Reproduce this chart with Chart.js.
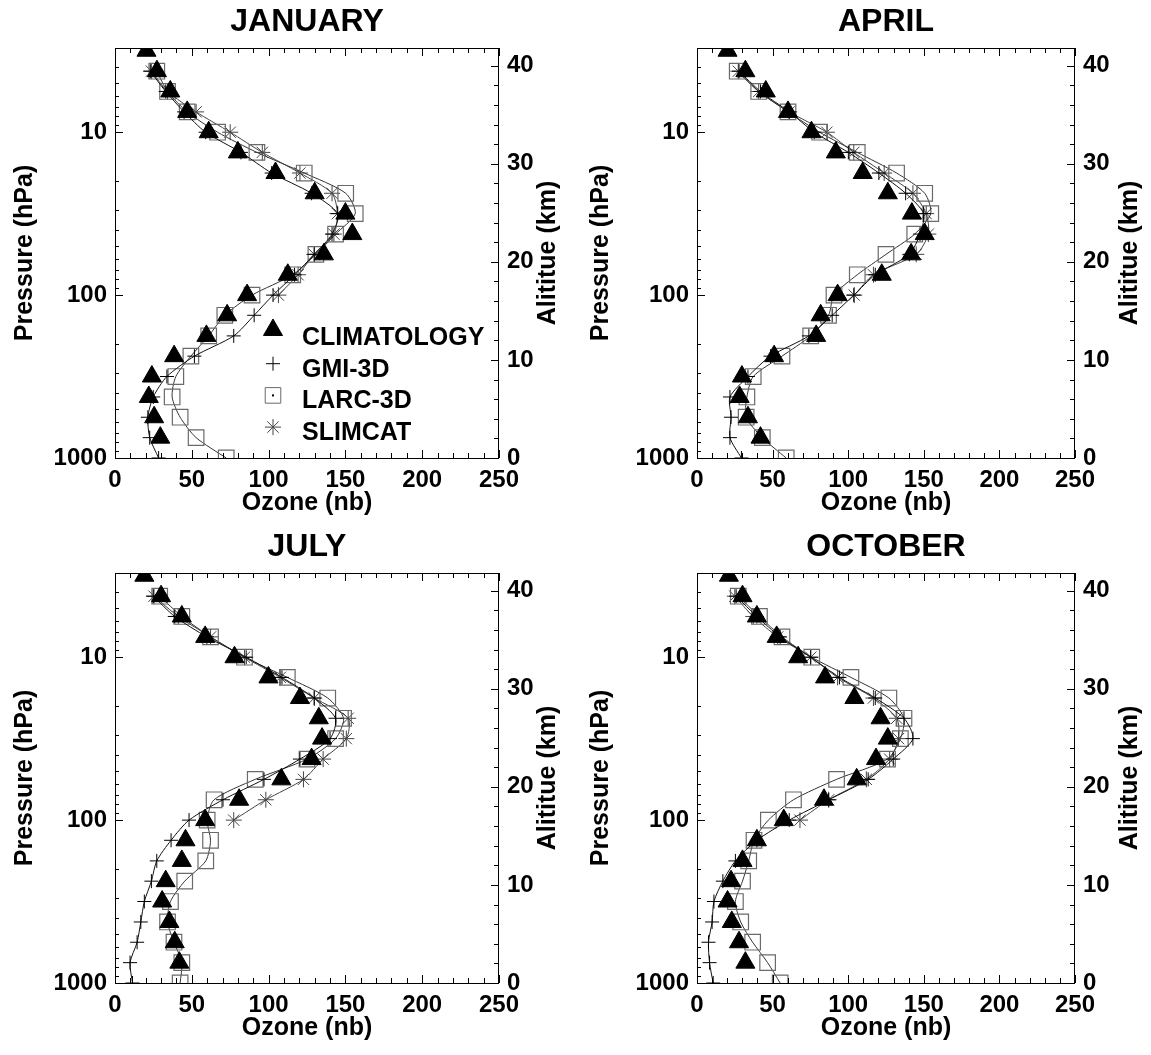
<!DOCTYPE html>
<html>
<head>
<meta charset="utf-8">
<title>Ozone profiles</title>
<script src="https://cdn.jsdelivr.net/npm/chart.js@4.4.1/dist/chart.umd.min.js"></script>
<style>
  html, body { margin: 0; padding: 0; background: #fff; }
  #wrap { position: relative; width: 1151px; height: 1055px; }
  canvas { position: absolute; }
</style>
</head>
<body>
<div id="wrap">
  <canvas id="jan" width="575" height="525" style="left:0;top:0"></canvas>
  <canvas id="apr" width="575" height="525" style="left:576px;top:0"></canvas>
  <canvas id="jul" width="575" height="525" style="left:0;top:525px"></canvas>
  <canvas id="oct" width="575" height="525" style="left:576px;top:525px"></canvas>
</div>
<script>
// pressure levels (hPa), bottom to top
const PRESSURE = [1000, 750, 562, 422, 316, 237, 178, 133, 100, 75, 56.2, 42.2, 31.6, 23.7, 17.8, 13.3, 10, 7.5, 5.62, 4.22, 3.16];
const MODEL_P = PRESSURE.slice(0, 20);   // GMI-3D, LARC-3D
const CLIM_P = PRESSURE.slice(1);        // climatology
const SLIM_P = PRESSURE.slice(8, 20);    // SLIMCAT (100 hPa and up)

// ozone (nb)
const JAN_CLIM = [29.5, 25.5, 22, 24, 38.5, 59.5, 73, 86, 112.5, 136, 154.5, 150, 130, 104.5, 80, 61, 47, 36, 27.3, 20.5];
const JAN_GMI  = [28.4, 22.6, 21.4, 24.9, 33.8, 51.7, 77.3, 90.6, 102.9, 116.9, 129.7, 141.3, 145, 128, 102, 82, 59, 45, 33, 23];
const JAN_LARC = [72.4, 52.8, 42.4, 37.2, 39.6, 49.4, 61, 71.5, 89.2, 115.7, 130.8, 143.6, 156.4, 150.2, 123.2, 92.4, 66.8, 47, 34.2, 27.2];
const JAN_SLIM = [106.4, 119.2, 129.7, 142.5, 144.8, 141.3, 120.4, 95.9, 75, 52.8, 34.2, 23.7];

const APR_CLIM = [42, 33.7, 28.2, 29.7, 51, 78.8, 81.8, 93, 122.2, 141.6, 150.6, 142.1, 126.2, 109.6, 91.8, 75.7, 60.2, 45.5, 32, 20.2];
const APR_GMI  = [29.4, 21.8, 22.5, 21.8, 33.7, 48.6, 74, 89.4, 103.7, 117.9, 140.4, 147.5, 149.9, 138, 120.3, 100.1, 77.6, 61, 42, 27.8];
const APR_LARC = [59, 43.2, 32.5, 33, 37.2, 56.2, 75.2, 87, 90.6, 106, 125, 144, 154.6, 150.6, 132, 106, 81.1, 60.2, 40.8, 26.6];
const APR_SLIM = [104, 116.7, 145, 153, 151.6, 142.8, 123.8, 103.7, 85.9, 61, 40.8, 27.3];

const JUL_CLIM = [41.9, 38.9, 35.4, 30.7, 33, 43.5, 45.9, 58.7, 80.8, 108.3, 128, 134.8, 132.7, 120.4, 99.9, 77.8, 58.7, 43.5, 30, 19.1];
const JUL_GMI  = [11.4, 9.8, 14.4, 16.8, 19.1, 23.7, 27.2, 36.5, 48.2, 70.3, 97, 120.4, 140, 143.6, 129.7, 108.7, 85.4, 59.8, 38.9, 24.9];
const JUL_LARC = [42.4, 43.5, 38.4, 34.2, 36.1, 45.4, 59.1, 62.2, 60, 64.5, 91.3, 125, 143.6, 148.8, 138.5, 112.2, 84.3, 62.2, 43.5, 29.1];
const JUL_SLIM = [77.3, 98.2, 122.7, 135.5, 150.6, 151.8, 129.7, 107.6, 84.3, 62.2, 41.2, 25.4];

const OCT_CLIM = [32, 27.8, 23, 20.2, 22.5, 30.1, 39.6, 57.4, 84, 105.6, 118.4, 126.2, 121.4, 104.1, 84.7, 66.9, 52.7, 39.6, 30.1, 21.1];
const OCT_GMI  = [10.7, 8.3, 7.6, 10, 11.2, 17.1, 25.4, 39.6, 61, 87.1, 113.2, 129.8, 142.8, 136.9, 117.9, 94.2, 75.2, 55, 39.6, 25.9];
const OCT_LARC = [55, 46.7, 36.8, 28.9, 25.4, 30.1, 34.2, 37.7, 47.2, 63.8, 92.3, 126, 134.5, 136.9, 126.9, 101.8, 75.9, 56.2, 41.3, 27.3];
const OCT_SLIM = [68.1, 87.1, 112, 127.4, 133.3, 132.1, 116.7, 93, 75.2, 53.4, 37.2, 25];

const X_TICKS = [0, 50, 100, 150, 200, 250];
const P_TICKS = [10, 100, 1000];
const ALT_TICKS = [0, 10, 20, 30, 40];
const P_MINOR = [4, 5, 6, 7, 8, 9, 10, 20, 30, 40, 50, 60, 70, 80, 90, 100, 200, 300, 400, 500, 600, 700, 800, 900, 1000];

const FONT = '"Liberation Sans", Arial, Helvetica, sans-serif';

function pts(vals, pres) {
  return vals.map((v, i) => ({ x: v, y: pres[i] }));
}

// box + inward tick marks + right axis title
const frame = {
  id: 'frame',
  afterDraw(chart, args, opts) {
    const { ctx, chartArea: a, scales } = chart;
    ctx.save();
    ctx.strokeStyle = '#000';
    ctx.lineWidth = 1;
    ctx.strokeRect(a.left + 0.5, a.top + 0.5, a.right - a.left - 1, a.bottom - a.top);
    ctx.beginPath();
    for (let v = 0; v <= 250; v += 10) {
      const px = Math.round(scales.x.getPixelForValue(v)) + 0.5;
      const len = v % 50 === 0 ? 8 : 5;
      ctx.moveTo(px, a.bottom); ctx.lineTo(px, a.bottom - len);
      ctx.moveTo(px, a.top); ctx.lineTo(px, a.top + len);
    }
    P_MINOR.forEach(v => {
      const py = Math.round(scales.y.getPixelForValue(v)) + 0.5;
      const len = P_TICKS.includes(v) ? 8 : 4;
      ctx.moveTo(a.left, py); ctx.lineTo(a.left + len, py);
    });
    for (let z = 0; z <= 40; z += 2) {
      const py = Math.round(scales.alt.getPixelForValue(z)) + 0.5;
      const len = z % 10 === 0 ? 8 : 5;
      ctx.moveTo(a.right, py); ctx.lineTo(a.right - len, py);
    }
    ctx.stroke();

    ctx.translate(opts.altX, (a.top + a.bottom) / 2);
    ctx.rotate(-Math.PI / 2);
    ctx.fillStyle = '#000';
    ctx.font = 'bold 25px ' + FONT;
    ctx.textAlign = 'center';
    ctx.textBaseline = 'middle';
    ctx.fillText('Alititue (km)', 0, 0);
    ctx.restore();
  }
};

// legend drawn inside the January plot
const legendBox = {
  id: 'legendBox',
  afterDraw(chart, args, opts) {
    if (!opts.show) return;
    const ctx = chart.ctx;
    ctx.save();
    chart.data.datasets.forEach((ds, i) => {
      const y = opts.y0 + i * opts.dy;
      const my = y - (ds.pointStyle === 'triangle' ? 8 : 6);
      ctx.fillStyle = ds.pointBackgroundColor;
      ctx.strokeStyle = ds.pointBorderColor;
      ctx.lineWidth = 1;
      Chart.helpers.drawPoint(ctx, { pointStyle: ds.pointStyle, radius: ds.pointRadius, rotation: 0, borderWidth: 1 }, opts.markX, my);
      if (ds.pointStyle === 'rect') {
        ctx.fillStyle = '#000';
        ctx.fillRect(opts.markX - 1, my - 1, 2, 2);
      }
      ctx.fillStyle = '#000';
      ctx.font = 'bold 25px ' + FONT;
      ctx.textAlign = 'left';
      ctx.textBaseline = 'middle';
      ctx.fillText(ds.label, opts.textX, y);
    });
    ctx.restore();
  }
};

function makePanel(id, title, clim, gmi, larc, slim, leftW, altX, showLegend) {
  const tickFont = { family: FONT, size: 24, weight: 'bold' };
  const titleFont = { family: FONT, size: 25, weight: 'bold', lineHeight: 1 };
  const noGrid = { display: false, drawTicks: false };
  return new Chart(document.getElementById(id), {
    type: 'scatter',
    data: {
      datasets: [
        {
          label: 'CLIMATOLOGY', data: pts(clim, CLIM_P), showLine: false,
          pointStyle: 'triangle', pointRadius: 11,
          pointBackgroundColor: '#000', pointBorderColor: '#000', pointBorderWidth: 1, clip: 0
        },
        {
          label: 'GMI-3D', data: pts(gmi, MODEL_P), showLine: true, tension: 0.25,
          borderColor: '#111', borderWidth: 1,
          pointStyle: 'cross', pointRadius: 7,
          pointBackgroundColor: 'rgba(0,0,0,0)', pointBorderColor: '#000', pointBorderWidth: 1, clip: 0
        },
        {
          label: 'LARC-3D', data: pts(larc, MODEL_P), showLine: true, tension: 0.25,
          borderColor: '#333', borderWidth: 1,
          pointStyle: 'rect', pointRadius: 11,
          pointBackgroundColor: 'rgba(0,0,0,0)', pointBorderColor: '#6a6a6a', pointBorderWidth: 1.2, clip: 0
        },
        {
          label: 'SLIMCAT', data: pts(slim, SLIM_P), showLine: true, tension: 0.25,
          borderColor: '#444', borderWidth: 1,
          pointStyle: 'star', pointRadius: 8,
          pointBackgroundColor: 'rgba(0,0,0,0)', pointBorderColor: '#444', pointBorderWidth: 1, clip: 0
        }
      ]
    },
    options: {
      responsive: false,
      animation: false,
      events: [],
      devicePixelRatio: 1,
      layout: { padding: 0 },
      plugins: {
        legend: { display: false },
        tooltip: { enabled: false },
        title: {
          display: true, text: title, color: '#000', fullSize: false,
          font: { family: FONT, size: 32, weight: 'bold', lineHeight: 1 },
          padding: { top: 6, bottom: 10 }
        },
        frame: { altX: altX },
        legendBox: { show: showLegend, markX: 273, textX: 302, y0: 338, dy: 31.7 }
      },
      scales: {
        x: {
          type: 'linear', position: 'bottom', min: 0, max: 250,
          grid: noGrid, border: { display: false },
          afterBuildTicks: s => { s.ticks = X_TICKS.map(v => ({ value: v })); },
          afterFit: s => { s.height = 67; },
          ticks: { color: '#000', font: tickFont, padding: 8, maxRotation: 0 },
          title: { display: true, text: 'Ozone (nb)', color: '#000', font: titleFont, padding: { top: 0, bottom: 9 } }
        },
        y: {
          type: 'logarithmic', position: 'left', reverse: true, min: 3.04, max: 1000,
          grid: noGrid, border: { display: false },
          afterBuildTicks: s => { s.ticks = P_TICKS.map(v => ({ value: v })); },
          afterFit: s => { s.width = leftW; },
          ticks: { color: '#000', font: tickFont, padding: 8, callback: v => String(v) },
          title: { display: true, text: 'Pressure (hPa)', color: '#000', font: titleFont, padding: { top: 13, bottom: 0 } }
        },
        alt: {
          type: 'linear', position: 'right', min: 0, max: 41.8, display: true,
          grid: noGrid, border: { display: false },
          afterBuildTicks: s => { s.ticks = ALT_TICKS.map(v => ({ value: v })); },
          afterFit: s => { s.width = 76; },
          ticks: { color: '#000', font: tickFont, padding: 8 }
        }
      }
    },
    plugins: [frame, legendBox]
  });
}

makePanel('jan', 'JANUARY', JAN_CLIM, JAN_GMI, JAN_LARC, JAN_SLIM, 115, 548, true);
makePanel('apr', 'APRIL', APR_CLIM, APR_GMI, APR_LARC, APR_SLIM, 121, 554, false);
makePanel('jul', 'JULY', JUL_CLIM, JUL_GMI, JUL_LARC, JUL_SLIM, 115, 548, false);
makePanel('oct', 'OCTOBER', OCT_CLIM, OCT_GMI, OCT_LARC, OCT_SLIM, 121, 554, false);
</script>
</body>
</html>
